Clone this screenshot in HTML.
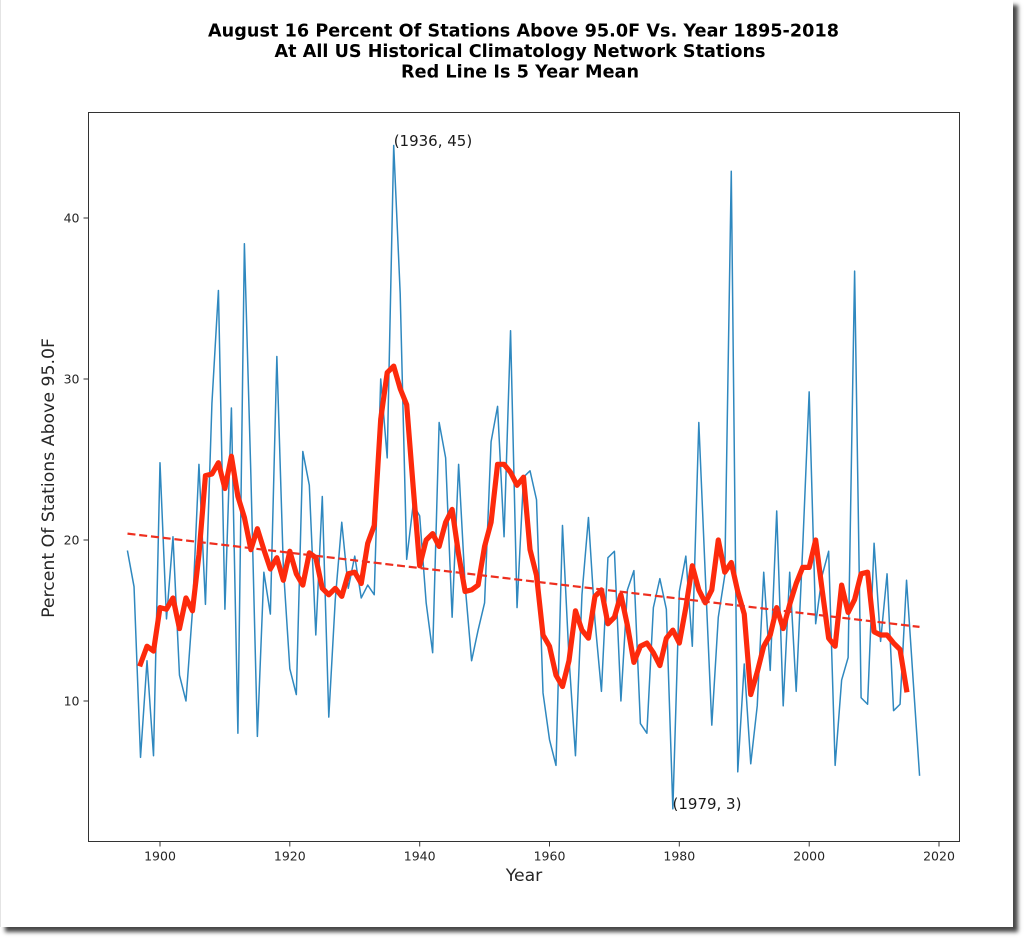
<!DOCTYPE html>
<html><head><meta charset="utf-8">
<style>
html,body{margin:0;padding:0;background:#fff;width:1024px;height:941px;overflow:hidden;}
#card{position:absolute;left:0;top:0;width:1013px;height:927px;background:#fff;box-shadow:5px 5px 4px rgba(0,0,0,0.72);border-left:1px solid #e4e4e4;box-sizing:border-box;}
svg{position:absolute;left:0;top:0;}
text{font-family:"DejaVu Sans","Liberation Sans",sans-serif;}
</style></head><body>
<div id="card"></div>
<svg width="1024" height="941" viewBox="0 0 1024 941" xmlns="http://www.w3.org/2000/svg">
  <!-- title -->
  <g font-weight="bold" font-size="17.6" fill="#000" text-anchor="middle">
    <text x="523.5" y="36.5" textLength="631" lengthAdjust="spacing">August 16 Percent Of Stations Above 95.0F Vs. Year 1895-2018</text>
    <text x="520" y="57" textLength="491" lengthAdjust="spacing">At All US Historical Climatology Network Stations</text>
    <text x="520" y="77.5" textLength="238" lengthAdjust="spacing">Red Line Is 5 Year Mean</text>
  </g>

  <!-- axes frame -->
  <rect x="88.5" y="112.5" width="871" height="729" fill="none" stroke="#333" stroke-width="1"/>

  <!-- y ticks -->
  <g stroke="#333" stroke-width="1">
    <line x1="83.5" y1="701" x2="88.5" y2="701"/>
    <line x1="83.5" y1="540" x2="88.5" y2="540"/>
    <line x1="83.5" y1="379" x2="88.5" y2="379"/>
    <line x1="83.5" y1="218" x2="88.5" y2="218"/>
  </g>
  <g font-size="12.5" fill="#262626" text-anchor="end">
    <text x="79.5" y="705.5">10</text>
    <text x="79.5" y="544.5">20</text>
    <text x="79.5" y="383.5">30</text>
    <text x="79.5" y="222.5">40</text>
  </g>

  <!-- x ticks -->
  <g stroke="#333" stroke-width="1">
    <line x1="160" y1="841.5" x2="160" y2="846.5"/>
    <line x1="289.8" y1="841.5" x2="289.8" y2="846.5"/>
    <line x1="419.7" y1="841.5" x2="419.7" y2="846.5"/>
    <line x1="549.5" y1="841.5" x2="549.5" y2="846.5"/>
    <line x1="679.3" y1="841.5" x2="679.3" y2="846.5"/>
    <line x1="809.2" y1="841.5" x2="809.2" y2="846.5"/>
    <line x1="939" y1="841.5" x2="939" y2="846.5"/>
  </g>
  <g font-size="12.5" fill="#262626" text-anchor="middle">
    <text x="160" y="860.5">1900</text>
    <text x="289.8" y="860.5">1920</text>
    <text x="419.7" y="860.5">1940</text>
    <text x="549.5" y="860.5">1960</text>
    <text x="679.3" y="860.5">1980</text>
    <text x="809.2" y="860.5">2000</text>
    <text x="939" y="860.5">2020</text>
  </g>

  <!-- axis labels -->
  <text x="524" y="881" font-size="17.3" fill="#262626" text-anchor="middle">Year</text>
  <text transform="translate(54 478) rotate(-90)" font-size="17.3" fill="#262626" text-anchor="middle">Percent Of Stations Above 95.0F</text>

  <!-- data -->
  <g transform="translate(160 862) scale(6.4917 -16.1)" fill="none">
    <polyline vector-effect="non-scaling-stroke" stroke="#2f88bf" stroke-width="1.5" stroke-linejoin="round" stroke-linecap="square"
      points="-5,19.3 -4,17.1 -3,6.5 -2,12.5 -1,6.6 0,24.8 1,15.1 2,20.2 3,11.6 4,10.0 5,15.6 6,24.7 7,16.0 8,28.5 9,35.5 10,15.7 11,28.2 12,8.0 13,38.4 14,24.0 15,7.8 16,18.0 17,15.4 18,31.4 19,18.3 20,12.0 21,10.4 22,25.5 23,23.4 24,14.1 25,22.7 26,9.0 27,16.3 28,21.1 29,17.0 30,19.0 31,16.4 32,17.2 33,16.6 34,30.0 35,25.1 36,44.5 37,35.3 38,18.8 39,22.2 40,21.5 41,16.1 42,13.0 43,27.3 44,25.1 45,15.2 46,24.7 47,17.2 48,12.5 49,14.4 50,16.1 51,26.1 52,28.3 53,20.2 54,33.0 55,15.8 56,23.9 57,24.3 58,22.5 59,10.5 60,7.6 61,6.0 62,20.9 63,12.7 64,6.6 65,16.6 66,21.4 67,15.0 68,10.6 69,18.9 70,19.3 71,10.0 72,16.9 73,18.1 74,8.6 75,8.0 76,15.8 77,17.6 78,15.7 79,3.3 80,16.8 81,19.0 82,13.4 83,27.3 84,17.8 85,8.5 86,15.2 87,17.8 88,42.9 89,5.6 90,12.3 91,6.1 92,9.7 93,18.0 94,11.9 95,21.8 96,9.7 97,18.0 98,10.6 99,19.5 100,29.2 101,14.8 102,17.8 103,19.3 104,6.0 105,11.3 106,12.7 107,36.7 108,10.2 109,9.8 110,19.8 111,13.7 112,17.9 113,9.4 114,9.8 115,17.5 116,11.4 117,5.4"/>
    <polyline vector-effect="non-scaling-stroke" stroke="#fd2a0c" stroke-width="5.2" stroke-linejoin="round" stroke-linecap="square"
      points="-3,12.3 -2,13.4 -1,13.1 0,15.8 1,15.7 2,16.4 3,14.5 4,16.4 5,15.6 6,19.1 7,24.0 8,24.1 9,24.8 10,23.2 11,25.2 12,22.7 13,21.4 14,19.4 15,20.7 16,19.4 17,18.2 18,18.9 19,17.5 20,19.3 21,17.9 22,17.2 23,19.2 24,18.9 25,17.0 26,16.6 27,17.0 28,16.5 29,17.9 30,18.0 31,17.3 32,19.8 33,20.9 34,27.5 35,30.4 36,30.8 37,29.4 38,28.4 39,23.3 40,18.4 41,20.0 42,20.4 43,19.6 44,21.1 45,21.9 46,19.1 47,16.8 48,16.9 49,17.2 50,19.6 51,21.1 52,24.7 53,24.7 54,24.2 55,23.4 56,23.9 57,19.4 58,17.8 59,14.1 60,13.4 61,11.6 62,10.9 63,12.5 64,15.6 65,14.4 66,13.9 67,16.5 68,16.9 69,14.8 70,15.2 71,16.6 72,14.7 73,12.4 74,13.4 75,13.6 76,13.0 77,12.2 78,13.9 79,14.4 80,13.6 81,15.8 82,18.4 83,16.9 84,16.1 85,16.9 86,20.0 87,18.0 88,18.6 89,16.8 90,15.4 91,10.4 92,11.8 93,13.4 94,14.1 95,15.8 96,14.5 97,16.0 98,17.3 99,18.3 100,18.3 101,20.0 102,16.9 103,13.9 104,13.4 105,17.2 106,15.5 107,16.3 108,17.9 109,18.0 110,14.3 111,14.1 112,14.1 113,13.6 114,13.2 115,10.7"/>
  </g>

  <!-- trend dashed line -->
  <line x1="127.5" y1="533.6" x2="919.5" y2="626.9" stroke="#ee2f1f" stroke-width="2.2" stroke-dasharray="8 3.8"/>

  <!-- annotations -->
  <g font-size="15" fill="#1a1a1a">
    <text x="393.7" y="146">(1936, 45)</text>
    <text x="672.5" y="809">(1979, 3)</text>
  </g>
</svg>
</body></html>
